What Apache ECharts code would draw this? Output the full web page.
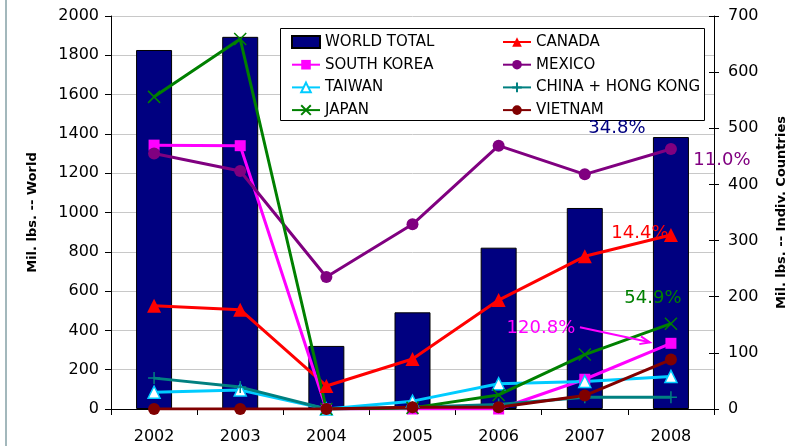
<!DOCTYPE html>
<html>
<head>
<meta charset="utf-8">
<script src="https://cdn.jsdelivr.net/npm/echarts@6/dist/echarts.min.js"></script>
<style>
html,body{margin:0;padding:0;background:#fff;}
#c{width:802px;height:446px;}
</style>
</head>
<body>
<div id="c"></div>
<script>
var years = ['2002', '2003', '2004', '2005', '2006', '2007', '2008'];
var worldTotal = [1827, 1894, 321, 492, 821, 1023, 1384];
var canada = [184, 177, 41, 89, 194, 272, 310];
var southKorea = [470, 469, 0, 0, 0, 53, 117];
var mexico = [455, 424, 235, 329, 469, 418, 463];
var taiwan = [30, 34, 0, 14, 45, 49, 58];
var chinaHK = [55, 39, 0, 3, 8, 21, 21];
var japan = [556, 659, 0, 2, 25, 97, 152];
var vietnam = [0, 0, 0, 3, 3, 24, 88];
var leftTicks = {min: 0, max: 2000, interval: 200};
var rightTicks = {min: 0, max: 700, interval: 100};
var growthLabels = {world: '34.8%', mexico: '11.0%', canada: '14.4%', japan: '54.9%', southKorea: '120.8%'};

var FONT = 'DejaVu Sans';
var chart = echarts.init(document.getElementById('c'));

function lineSeries(name, data, color, symbol, size, itemStyle) {
  return {
    name: name, type: 'line', yAxisIndex: 1, data: data,
    symbol: symbol, symbolSize: size, showAllSymbol: true,
    lineStyle: {color: color, width: 3},
    itemStyle: itemStyle || {color: color},
    emphasis: {disabled: true},
    animation: false
  };
}
var plusPath = 'path://M5,0L5,10M0,5L10,5';
var crossPath = 'path://M0,0L10,10M10,0L0,10';
var plainNum = function (v) { return String(v); };
var legendText = {fontFamily: FONT, fontSize: 15, color: '#000', lineHeight: 16};

var option = {
  animation: false,
  grid: {left: 111, right: 88, top: 16, bottom: 37},
  legend: [
    {
      data: [{name: 'WORLD TOTAL', icon: 'rect'}, 'SOUTH KOREA', 'TAIWAN', 'JAPAN'],
      orient: 'vertical', left: 286, top: 29, itemWidth: 28, itemHeight: 12, itemGap: 6.7,
      textStyle: legendText, selectedMode: false
    },
    {
      data: ['CANADA', 'MEXICO', 'CHINA + HONG KONG', 'VIETNAM'],
      orient: 'vertical', left: 497, top: 29, itemWidth: 28, itemHeight: 12, itemGap: 6.7,
      textStyle: legendText, selectedMode: false
    }
  ],
  xAxis: {
    type: 'category', data: years, boundaryGap: true,
    axisLine: {lineStyle: {color: '#000', width: 1}},
    axisTick: {show: true, length: 6, lineStyle: {color: '#000'}},
    axisLabel: {fontFamily: FONT, fontSize: 16, color: '#000', margin: 20}
  },
  yAxis: [
    {
      type: 'value', min: leftTicks.min, max: leftTicks.max, interval: leftTicks.interval, position: 'left',
      name: 'Mil. lbs. -- World', nameLocation: 'middle', nameRotate: 90, nameGap: 72,
      nameTextStyle: {fontFamily: FONT, fontSize: 13, fontWeight: 'bold', color: '#000'},
      axisLine: {show: true, lineStyle: {color: '#000'}},
      axisTick: {show: true, length: 6, lineStyle: {color: '#000'}},
      axisLabel: {fontFamily: FONT, fontSize: 16, color: '#000', margin: 12, formatter: plainNum},
      splitLine: {show: true, lineStyle: {color: '#c8c8c8', width: 1}}
    },
    {
      type: 'value', min: rightTicks.min, max: rightTicks.max, interval: rightTicks.interval, position: 'right',
      name: 'Mil. lbs. -- Indiv. Countries', nameLocation: 'middle', nameRotate: 90, nameGap: 61,
      nameTextStyle: {fontFamily: FONT, fontSize: 13, fontWeight: 'bold', color: '#000'},
      axisLine: {show: true, lineStyle: {color: '#000'}},
      axisTick: {show: true, length: 5, lineStyle: {color: '#000'}},
      axisLabel: {fontFamily: FONT, fontSize: 16, color: '#000', margin: 14, formatter: plainNum},
      splitLine: {show: false}
    },
    {
      type: 'value', min: rightTicks.min, max: rightTicks.max, interval: rightTicks.interval, position: 'right',
      axisLine: {show: false},
      axisTick: {show: true, inside: true, length: 5, lineStyle: {color: '#000'}},
      axisLabel: {show: false},
      splitLine: {show: false}
    }
  ],
  series: [
    {
      name: 'WORLD TOTAL', type: 'bar', yAxisIndex: 0, data: worldTotal, barWidth: 36,
      itemStyle: {color: '#000080', borderColor: '#000', borderWidth: 1},
      emphasis: {disabled: true}
    },
    lineSeries('CANADA', canada, '#ff0000', 'triangle', 14),
    lineSeries('SOUTH KOREA', southKorea, '#ff00ff', 'rect', 11),
    lineSeries('MEXICO', mexico, '#800080', 'circle', 12),
    lineSeries('TAIWAN', taiwan, '#00ccff', 'triangle', 12, {color: '#ffffff', borderColor: '#00ccff', borderWidth: 1.5}),
    lineSeries('CHINA + HONG KONG', chinaHK, '#008080', plusPath, 12, {color: '#008080', borderColor: '#008080', borderWidth: 1.5}),
    lineSeries('JAPAN', japan, '#008000', crossPath, 12, {color: '#008000', borderColor: '#008000', borderWidth: 1.5}),
    lineSeries('VIETNAM', vietnam, '#800000', 'circle', 12)
  ],
  graphic: [
    {id: 'leftEdge', type: 'line', shape: {x1: 6, y1: 0, x2: 6, y2: 446}, style: {stroke: '#a3b8bc', lineWidth: 2}},
    {id: 'legendBox', type: 'rect', z: 1, shape: {x: 280.5, y: 28.5, width: 424, height: 92}, style: {fill: '#fff', stroke: '#000', lineWidth: 1}}
  ]
};
chart.setOption(option);

function px(axisIdx, cat, val) {
  return chart.convertToPixel({xAxisIndex: 0, yAxisIndex: axisIdx}, [cat, val]);
}
var last = years.length - 1;
var pW = px(0, years[last], worldTotal[last]);
var pM = px(1, years[last], mexico[last]);
var pC = px(1, years[last], canada[last]);
var pJ = px(1, years[last], japan[last]);
var pS = px(1, years[last], southKorea[last]);

function txt(id, p, dx, dy, text, color) {
  return {id: id, type: 'text', z: 10, x: p[0] + dx, y: p[1] + dy,
    style: {text: text, fill: color, font: '18px "' + FONT + '"', textAlign: 'center', textVerticalAlign: 'middle'}};
}
var ax = pS[0] - 91, ay = pS[1] - 16, bx = pS[0] - 21, by = pS[1] - 1;
var ang = Math.atan2(by - ay, bx - ax);
var hl = 10, hw = 4;
var tip1 = [bx - hl * Math.cos(ang) + hw * Math.sin(ang), by - hl * Math.sin(ang) - hw * Math.cos(ang)];
var tip2 = [bx - hl * Math.cos(ang) - hw * Math.sin(ang), by - hl * Math.sin(ang) + hw * Math.cos(ang)];

chart.setOption({
  graphic: [
    txt('tW', pW, -54, -9, growthLabels.world, '#000080'),
    txt('tM', pM, 51, 11, growthLabels.mexico, '#800080'),
    txt('tC', pC, -31, -2, growthLabels.canada, '#ff0000'),
    txt('tJ', pJ, -18, -25, growthLabels.japan, '#008000'),
    txt('tS', pS, -130, -15, growthLabels.southKorea, '#ff00ff'),
    {id: 'arrowLine', type: 'line', z: 10, shape: {x1: ax, y1: ay, x2: bx, y2: by}, style: {stroke: '#ff00ff', lineWidth: 2}},
    {id: 'arrowHead', type: 'polyline', z: 10, shape: {points: [tip1, [bx, by], tip2]}, style: {stroke: '#ff00ff', lineWidth: 2, fill: null}}
  ]
});
</script>
</body>
</html>
